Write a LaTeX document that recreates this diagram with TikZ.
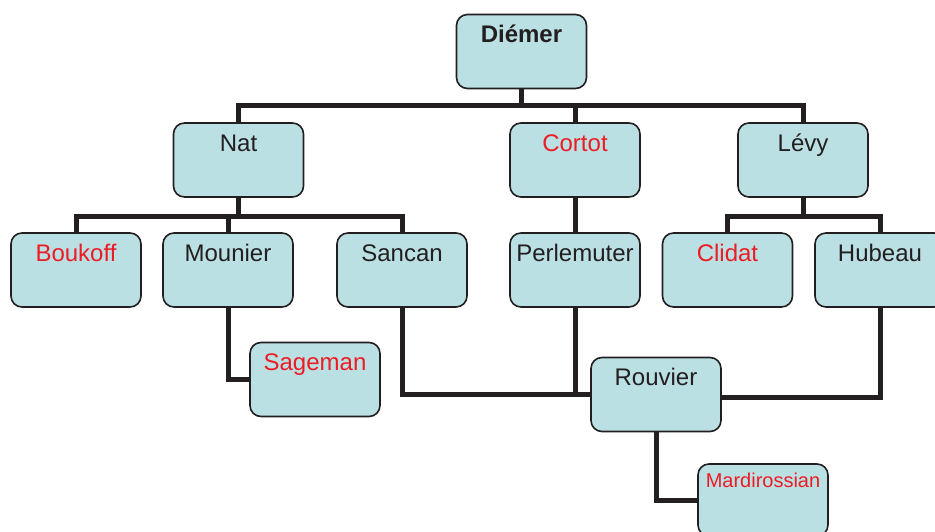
\documentclass[tikz,border=0pt]{standalone}
\usepackage{fontspec}
\setmainfont{Liberation Sans}
\definecolor{boxfill}{HTML}{BBE0E3}
\definecolor{namered}{HTML}{ED1C24}
\definecolor{ink}{HTML}{231F20}

\begin{document}
\begin{tikzpicture}[
  x=1pt,y=-1pt,
  every node/.style={font=\fontsize{24}{28}\selectfont,text=ink},
  tbox/.style={draw=ink,line width=1.6pt,fill=boxfill,rounded corners=11pt,
    minimum width=130pt,inner ysep=0pt,text height=28pt,text depth=46pt},
  hl/.style={text=namered},
  link/.style={draw=ink,line width=5pt}
]
\useasboundingbox (0,0) rectangle (935,531);
% teachers
\node[tbox,font=\fontsize{24}{28}\selectfont\bfseries] (diemer) at (521.5,51.5) {Diémer};
\node[tbox] (nat) at (238.5,160) {Nat};
\node[tbox,hl] (cortot) at (575,160) {Cortot};
\node[tbox] (levy) at (803,160) {Lévy};
% pupils
\node[tbox,hl] (boukoff) at (76,270) {Boukoff};
\node[tbox] (mounier) at (228,270) {Mounier};
\node[tbox] (sancan) at (402,270) {Sancan};
\node[tbox] (perlemuter) at (575,270) {Perlemuter};
\node[tbox,hl] (clidat) at (727.5,270) {Clidat};
\node[tbox] (hubeau) at (880,270) {Hubeau};
\node[tbox,hl] (sageman) at (315,379.5) {Sageman};
\node[tbox] (rouvier) at (656,394.5) {Rouvier};
\node[tbox,hl,font=\fontsize{20}{24}\selectfont,text height=23pt,text depth=49pt]
  (mardirossian) at (763,500) {Mardirossian};
% links
\draw[link] (diemer.south) -- ++(0,16.5) -| (nat.north);
\draw[link] (diemer.south) -- ++(0,16.5) -| (levy.north);
\draw[link] (diemer.south) -- ++(0,16.5) -| (cortot.north);
\draw[link] (nat.south) -- ++(0,19) -| (boukoff.north);
\draw[link] (nat.south) -- ++(0,19) -| (mounier.north);
\draw[link] (nat.south) -- ++(0,19) -| (sancan.north);
\draw[link] (levy.south) -- ++(0,19) -| (clidat.north);
\draw[link] (levy.south) -- ++(0,19) -| (hubeau.north);
\draw[link] (cortot.south) -- (perlemuter.north);
\draw[link] (mounier.south) |- (sageman.west);
\draw[link] (sancan.south) |- (rouvier.west);
\draw[link] (perlemuter.south) -- (perlemuter.south |- rouvier.west);
\draw[link] (hubeau.south) |- ([yshift=-2.5pt]rouvier.east);
\draw[link] (rouvier.south) |- (mardirossian.west);
\end{tikzpicture}
\end{document}
